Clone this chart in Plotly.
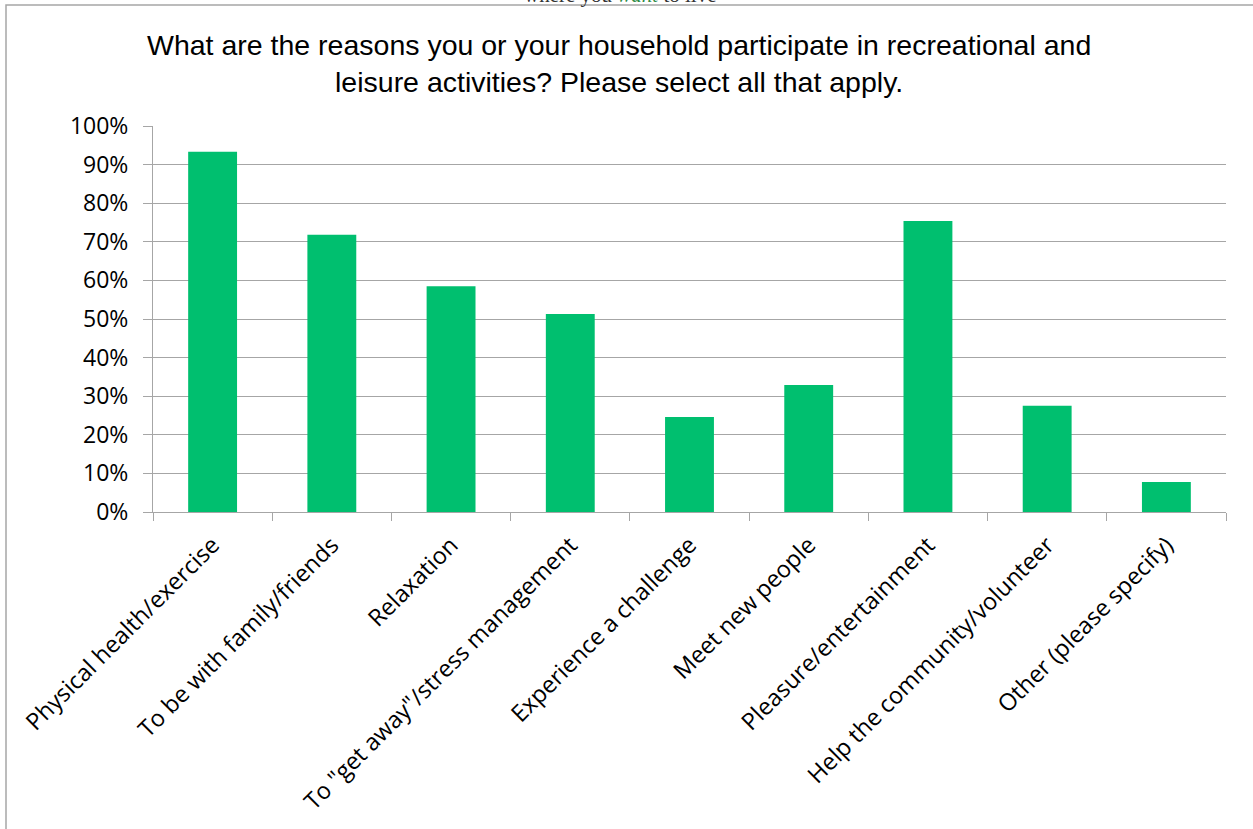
import plotly.graph_objects as go

categories = [
    "Physical health/exercise",
    "To be with family/friends",
    "Relaxation",
    "To \"get away\"/stress management",
    "Experience a challenge",
    "Meet new people",
    "Pleasure/entertainment",
    "Help the community/volunteer",
    "Other (please specify)",
]
values = [0.933, 0.718, 0.585, 0.513, 0.246, 0.329, 0.754, 0.275, 0.078]
y_ticks = [0, 0.1, 0.2, 0.3, 0.4, 0.5, 0.6, 0.7, 0.8, 0.9, 1.0]
y_tick_labels = ["0%", "10%", "20%", "30%", "40%", "50%", "60%", "70%", "80%", "90%", "100%"]

title_text = ("What are the reasons you or your household participate in recreational and<br>"
              "leisure activities? Please select all that apply.")
header_text = "where you <i><span style='color:#2e8b47'>want</span></i> to live"

W, H = 1253, 829
ml, mr, mt, mb = 153, 27, 126, 317
pw, ph = W - ml - mr, H - mt - mb

def px_x(x):
    return (x - ml) / pw

def px_y(y):
    return 1 - (y - mt) / ph

fig = go.Figure(go.Bar(
    x=categories, y=values,
    marker=dict(color="#00BF6F", line=dict(width=0)),
    hoverinfo="skip",
))

grid = "#A6A6A6"
fig.update_layout(
    width=W, height=H,
    margin=dict(l=ml, r=mr, t=mt, b=mb, autoexpand=False),
    paper_bgcolor="white", plot_bgcolor="white",
    bargap=0.59,
    showlegend=False,
    font=dict(family="Open Sans", color="#000000"),
    xaxis=dict(
        type="category", tickangle=-45, tickson="boundaries",
        ticks="outside", ticklen=8, tickcolor=grid, tickwidth=1,
        showline=True, linecolor=grid, linewidth=1,
        showgrid=False, tickfont=dict(family="Open Sans", size=23.5, color="#000"),
        ticklabelstandoff=9,
        fixedrange=True,
    ),
    yaxis=dict(
        range=[0, 1], tickvals=y_ticks, ticktext=y_tick_labels,
        ticks="outside", ticklen=9, tickcolor=grid, tickwidth=1,
        showline=True, linecolor=grid, linewidth=1,
        showgrid=True, gridcolor=grid, gridwidth=1, zeroline=False,
        tickfont=dict(family="Open Sans", size=23, color="#000"),
        ticklabelstandoff=10,
        fixedrange=True,
    ),
    shapes=[dict(
        type="rect", xref="paper", yref="paper",
        x0=px_x(6), x1=px_x(1300), y0=px_y(900), y1=px_y(5),
        line=dict(color="#A6A6A6", width=1.5), fillcolor="rgba(0,0,0,0)", layer="below",
    )],
    annotations=[
        dict(text=title_text, xref="paper", yref="paper",
             x=px_x(619), y=px_y(63), xanchor="center", yanchor="middle",
             showarrow=False, align="center",
             font=dict(family="Liberation Sans", size=28.5, color="#000")),
        dict(text=header_text, xref="paper", yref="paper",
             x=px_x(620), y=px_y(-5), xanchor="center", yanchor="middle",
             showarrow=False,
             font=dict(family="Liberation Serif", size=21, color="#333")),
    ],
)

fig.write_html(
    "out.html",
    config={"displayModeBar": False},
    post_script="document.body.style.margin='0';document.body.style.overflow='hidden';",
)
